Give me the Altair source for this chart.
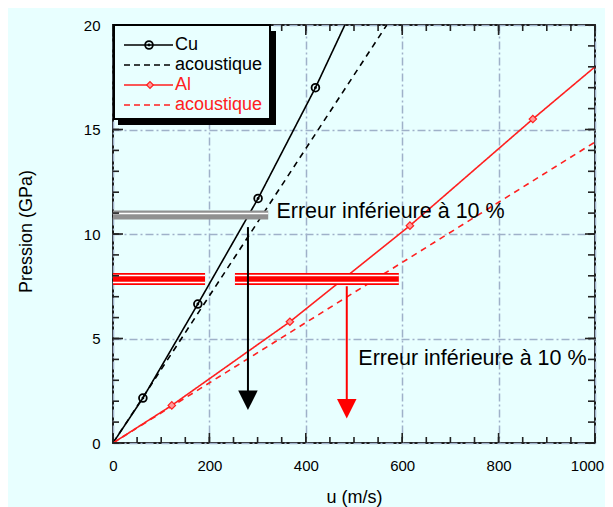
import altair as alt
import pandas as pd

# ---------------- data ----------------
cu_u = [0, 62, 176, 301, 420, 481]
cu_p = [0, 2.15, 6.65, 11.7, 17.0, 20.0]
cu_ac_u = [0, 568]
cu_ac_p = [0, 20.0]
al_u = [0, 122, 367, 616, 871, 1000]
al_p = [0, 1.8, 5.8, 10.4, 15.5, 18.0]
al_ac_u = [0, 1000]
al_ac_p = [0, 14.4]

cu_marker_u = [62, 176, 301, 420]
cu_marker_p = [2.15, 6.65, 11.7, 17.0]
al_marker_u = [122, 367, 616, 871]
al_marker_p = [1.8, 5.8, 10.4, 15.5]

series_keys = ["Cu", "Cu_ac", "Al", "Al_ac"]
legend_labels = ["Cu", "acoustique", "Al", "acoustique"]

x_label_ticks = [0, 200, 400, 600, 800, 1000]
y_label_ticks = [0, 5, 10, 15, 20]
x_minor_ticks = list(range(0, 1001, 50))
y_minor_ticks = list(range(0, 21, 1))

note_text = "Erreur inférieure à 10 %"
note_u = [339, 509]
note_p = [11.05, 4.02]

grey_band_p = [10.91]
grey_gap_p = [10.98]
grey_band_u = [0, 322]
red_band_p = [7.85]
red_gap_p = [8.01, 7.68]
red_band_u0 = [0, 253]
red_band_u1 = [191, 593]

black_arrow = {"u": 280, "top": 10.33, "bottom": 2.4, "head": 2.04}
red_arrow = {"u": 485, "top": 7.5, "bottom": 2.0, "head": 1.64}

# ---------------- styles ----------------
BG = "#e8ffff"
RED = "#ff2020"
GRID = "#9fb1c9"
FONT = "Liberation Sans"
W, H = 482, 418

xs = alt.Scale(domain=[0, 1000], nice=False, zero=False)
ys = alt.Scale(domain=[0, 20], nice=False, zero=False)

rows = []
for key, us, ps in [("Cu", cu_u, cu_p), ("Cu_ac", cu_ac_u, cu_ac_p),
                    ("Al", al_u, al_p), ("Al_ac", al_ac_u, al_ac_p)]:
    for u, p in zip(us, ps):
        rows.append({"s": key, "u": u, "p": p})
lines_df = pd.DataFrame(rows)

x_axis = alt.Axis(values=x_label_ticks, format="d", grid=True, gridDash=[8, 3, 2, 3], gridColor=GRID,
                  gridWidth=1.5, gridOpacity=1, ticks=False, tickSize=0, domain=False,
                  labelFlush=False, labelFontSize=15, labelPadding=15, labelColor="black",
                  labelOffset={"condition": {"test": "datum.value == 1000", "value": -8}, "value": 0},
                  labelFont=FONT, title="u (m/s)", titleFontSize=18, titleFontWeight="normal",
                  titleFont=FONT, titleX=241, titleY=54, titleBaseline="middle", titleAlign="center")
y_axis = alt.Axis(values=y_label_ticks, format="d", grid=True, gridDash=[8, 3, 2, 3], gridColor=GRID,
                  gridWidth=1.5, gridOpacity=1, ticks=False, tickSize=0, domain=False,
                  labelFlush=False, labelFontSize=15, labelPadding=13, labelColor="black",
                  labelFont=FONT, title="Pression (GPa)", titleFontSize=18, titleFontWeight="normal",
                  titleFont=FONT, titleX=-87, titleY=206, titleBaseline="middle", titleAlign="center",
                  titleAngle=270)

lines = alt.Chart(lines_df).mark_line(strokeWidth=1.6).encode(
    x=alt.X("u:Q", scale=xs, axis=x_axis),
    y=alt.Y("p:Q", scale=ys, axis=y_axis),
    color=alt.Color("s:N", scale=alt.Scale(domain=series_keys, range=["black", "black", RED, RED]), legend=None),
    strokeDash=alt.StrokeDash("s:N", scale=alt.Scale(domain=series_keys, range=[[1, 0], [6, 5], [1, 0], [6, 5]]), legend=None),
)

cu_m = pd.DataFrame({"u": cu_marker_u, "p": cu_marker_p})
al_m = pd.DataFrame({"u": al_marker_u, "p": al_marker_p})
cu_pts = alt.Chart(cu_m).mark_point(shape="circle", size=60, filled=False, color="black", strokeWidth=1.8, opacity=1).encode(
    x=alt.X("u:Q", scale=xs), y=alt.Y("p:Q", scale=ys))
cu_dots = alt.Chart(cu_m).mark_point(shape="circle", size=8, filled=True, color="black", opacity=1).encode(
    x=alt.X("u:Q", scale=xs), y=alt.Y("p:Q", scale=ys))
al_pts = alt.Chart(al_m).mark_point(shape="diamond", size=55, filled=True, fill="#ff9a9a", stroke=RED, strokeWidth=1.2, opacity=1).encode(
    x=alt.X("u:Q", scale=xs), y=alt.Y("p:Q", scale=ys))

# annotation bands
grey_df = pd.DataFrame({"u0": [grey_band_u[0]], "u1": [grey_band_u[1]], "p": grey_band_p})
grey_gap_df = pd.DataFrame({"u0": [grey_band_u[0]], "u1": [grey_band_u[1]], "p": grey_gap_p})
grey_band = alt.Chart(grey_df).mark_rule(color="#909090", strokeWidth=9).encode(
    x=alt.X("u0:Q", scale=xs), x2="u1:Q", y=alt.Y("p:Q", scale=ys))
grey_gap = alt.Chart(grey_gap_df).mark_rule(color="white", strokeWidth=1.5).encode(
    x=alt.X("u0:Q", scale=xs), x2="u1:Q", y=alt.Y("p:Q", scale=ys))

red_df = pd.DataFrame({"u0": red_band_u0, "u1": red_band_u1, "p": red_band_p * 2})
red_gap_rows = []
for a, b in zip(red_band_u0, red_band_u1):
    for p in red_gap_p:
        red_gap_rows.append({"u0": a, "u1": b, "p": p})
red_gap_df = pd.DataFrame(red_gap_rows)
red_band = alt.Chart(red_df).mark_rule(color="red", strokeWidth=12).encode(
    x=alt.X("u0:Q", scale=xs), x2="u1:Q", y=alt.Y("p:Q", scale=ys))
red_gap = alt.Chart(red_gap_df).mark_rule(color="white", strokeWidth=1.5).encode(
    x=alt.X("u0:Q", scale=xs), x2="u1:Q", y=alt.Y("p:Q", scale=ys))


def arrow(spec, colour):
    df = pd.DataFrame({"u": [spec["u"]], "p0": [spec["top"]], "p1": [spec["bottom"]], "ph": [spec["head"]]})
    shaft = alt.Chart(df).mark_rule(strokeWidth=2, color=colour).encode(
        x=alt.X("u:Q", scale=xs), y=alt.Y("p0:Q", scale=ys), y2="p1:Q")
    head = alt.Chart(df).mark_point(shape="M-1,-1L1,-1L0,1Z", size=380, filled=True, color=colour, opacity=1).encode(
        x=alt.X("u:Q", scale=xs), y=alt.Y("ph:Q", scale=ys))
    return [shaft, head]


arrows = arrow(black_arrow, "black") + arrow(red_arrow, "red")

notes_df = pd.DataFrame({"u": note_u, "p": note_p, "t": [note_text, note_text]})
notes = alt.Chart(notes_df).mark_text(align="left", baseline="middle", fontSize=21.5, font=FONT, color="black").encode(
    x=alt.X("u:Q", scale=xs), y=alt.Y("p:Q", scale=ys), text="t:N")


# inward ticks on all four sides
def ticks_x(vals, y0, y1):
    return alt.Chart(pd.DataFrame({"v": vals})).mark_rule(color="#222222", strokeWidth=1.6).encode(
        x=alt.X("v:Q", scale=xs), y=alt.value(y0), y2=alt.value(y1))


def ticks_y(vals, x0, x1):
    return alt.Chart(pd.DataFrame({"v": vals})).mark_rule(color="#222222", strokeWidth=1.6).encode(
        y=alt.Y("v:Q", scale=ys), x=alt.value(x0), x2=alt.value(x1))


tick_layers = [
    ticks_x(x_minor_ticks, H, H - 6), ticks_x(x_label_ticks, H, H - 10),
    ticks_x(x_minor_ticks, 0, 6), ticks_x(x_label_ticks, 0, 10),
    ticks_y(y_minor_ticks, 0, 6), ticks_y(y_label_ticks, 0, 10),
    ticks_y(y_minor_ticks, W, W - 7), ticks_y(y_label_ticks, W, W - 10),
]

# legend box (guide) drawn in the top-left corner of the plot
one = alt.Data(values=[{}])
shadow = alt.Chart(one).mark_rect(color="black").encode(
    x=alt.value(5), x2=alt.value(163), y=alt.value(6), y2=alt.value(100))
box = alt.Chart(one).mark_rect(fill=BG, stroke="black", strokeWidth=2).encode(
    x=alt.value(1), x2=alt.value(157), y=alt.value(0), y2=alt.value(94))
leg_layers = [shadow, box]
leg_colors = ["black", "black", RED, RED]
leg_dash = [[1, 0], [6, 4], [1, 0], [6, 4]]
for i, lab in enumerate(legend_labels):
    yy = 20 + 20 * i
    leg_layers.append(alt.Chart(one).mark_rule(color=leg_colors[i], strokeWidth=1.6, strokeDash=leg_dash[i]).encode(
        x=alt.value(11), x2=alt.value(60), y=alt.value(yy)))
    leg_layers.append(alt.Chart(one).mark_text(align="left", baseline="middle", fontSize=18, font=FONT,
                                               color=leg_colors[i], text=lab).encode(
        x=alt.value(62), y=alt.value(yy)))
leg_layers.append(alt.Chart(one).mark_point(shape="circle", size=60, filled=False, color="black", strokeWidth=1.8, opacity=1).encode(
    x=alt.value(36), y=alt.value(20)))
leg_layers.append(alt.Chart(one).mark_point(shape="circle", size=8, filled=True, color="black", opacity=1).encode(
    x=alt.value(36), y=alt.value(20)))
leg_layers.append(alt.Chart(one).mark_point(shape="diamond", size=45, filled=True, fill="#ff9a9a", stroke=RED, strokeWidth=1.2, opacity=1).encode(
    x=alt.value(37), y=alt.value(60)))

chart = alt.layer(
    lines, cu_pts, cu_dots, al_pts,
    grey_band, grey_gap, red_band, red_gap,
    *arrows, notes,
    *tick_layers, *leg_layers,
).properties(
    width=W, height=H,
    autosize=alt.AutoSizeParams(type="none"),
    padding={"left": 105, "top": 17, "right": 10, "bottom": 64},
).configure(background=BG).configure_view(stroke="#1e1e1e", strokeWidth=2)

chart.save("out.html", embed_options={"renderer": "svg", "actions": False})
